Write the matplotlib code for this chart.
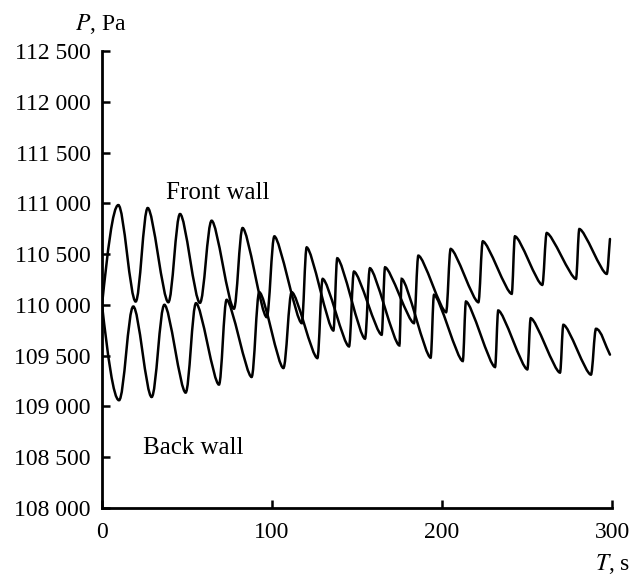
import matplotlib
matplotlib.use('Agg')
import matplotlib.pyplot as plt
from matplotlib.path import Path
from matplotlib.patches import PathPatch

# extrema (time in s, pressure in Pa)
front_t = [0, 9.6, 19.8, 26.9, 39.0, 45.9, 57.6, 64.5, 77.6, 82.7, 96.9, 101.4,
           117.5, 120.4, 136.1, 138.4, 154.7, 157.6, 174.9, 176.3, 193.3, 195.3,
           212.2, 214.1, 231.2, 233.1, 250.2, 252.2, 269.4, 271.4, 287.6, 290.6, 298.8]
front_p = [110000, 110983, 110033, 110954, 110026, 110895, 110020, 110829, 109962,
           110757, 109879, 110675, 109820, 110566, 109748, 110459, 109667, 110361,
           109601, 110256, 109480, 110099, 109447, 110033, 109388, 109945, 109365,
           109869, 109333, 109804, 109313, 109765, 109510]

back_t = [0, 10.0, 18.4, 29.2, 36.7, 49.2, 55.3, 68.8, 73.3, 88.0, 92.5, 106.7,
          111.6, 126.7, 129.8, 145.3, 148.2, 164.5, 166.5, 183.5, 186.1, 202.4,
          205.1, 221.4, 224.0, 241.0, 242.9, 259.0, 261.6, 278.8, 280.8, 296.9, 298.8]
back_p = [110000, 109061, 109984, 109093, 110001, 109136, 110017, 109215, 110050,
          109290, 110125, 109378, 110125, 109476, 110256, 109591, 110328, 109706,
          110370, 109820, 110485, 109928, 110551, 110026, 110626, 110109, 110675,
          110197, 110708, 110256, 110747, 110305, 110649]

y_ticks = list(range(108000, 112501, 500))
x_ticks = [0, 100, 200, 300]

serif = ['Liberation Serif', 'DejaVu Serif']
plt.rcParams['font.family'] = serif
plt.rcParams['mathtext.fontset'] = 'stix'


def smooth_path(t, p):
    # cubic bezier through the extrema, flat at each turning point
    verts = [(t[0], p[0])]
    codes = [Path.MOVETO]
    n = len(t)
    for i in range(n - 1):
        t0, p0, t1, p1 = t[i], p[i], t[i + 1], p[i + 1]
        dt = t1 - t0
        h = 0.36 * min(dt, 9.0)
        if i == 0:
            c1 = (t0 + dt * 0.33, p0 + (p1 - p0) * 0.52)
        else:
            c1 = (t0 + h, p0)
        if i == n - 2:
            c2 = (t1 - dt * 0.3, p1 - (p1 - p0) * 0.3)
        else:
            c2 = (t1 - h, p1)
        verts += [c1, c2, (t1, p1)]
        codes += [Path.CURVE4] * 3
    return Path(verts, codes)


fig = plt.figure(figsize=(6.4, 5.75), dpi=100)
ax = fig.add_axes([102 / 640, 1 - 508 / 575, 510 / 640, 457 / 575])

for t, p in [(front_t, front_p), (back_t, back_p)]:
    ax.add_patch(PathPatch(smooth_path(t, p), facecolor='none',
                           edgecolor='black', lw=1.8, capstyle='round'))

ax.set_xlim(0, 300)
ax.set_ylim(108000, 112500)
ax.set_xticks(x_ticks)
ax.set_xticklabels([str(v) for v in x_ticks])
ax.set_yticks(y_ticks)
ax.set_yticklabels([f'{v // 1000} {v % 1000:03d}' for v in y_ticks])
ax.tick_params(direction='in', length=6, width=1.8, labelsize=17, color='black')
ax.tick_params(axis='x', pad=10)
ax.tick_params(axis='y', pad=8)
for s in ['top', 'right']:
    ax.spines[s].set_visible(False)
for s in ['left', 'bottom']:
    ax.spines[s].set_linewidth(2)

ax.text(37.6, 111045, 'Front wall', fontsize=18, ha='left', va='baseline')
ax.text(24.1, 108530, 'Back wall', fontsize=18, ha='left', va='baseline')

fig.text(101 / 640, 1 - 30 / 575, '$P$, Pa', fontsize=17, ha='center', va='baseline')
fig.text(630 / 640, 1 - 570 / 575, '$T$, s', fontsize=17, ha='right', va='baseline')

fig.savefig('out.png', dpi=100)
